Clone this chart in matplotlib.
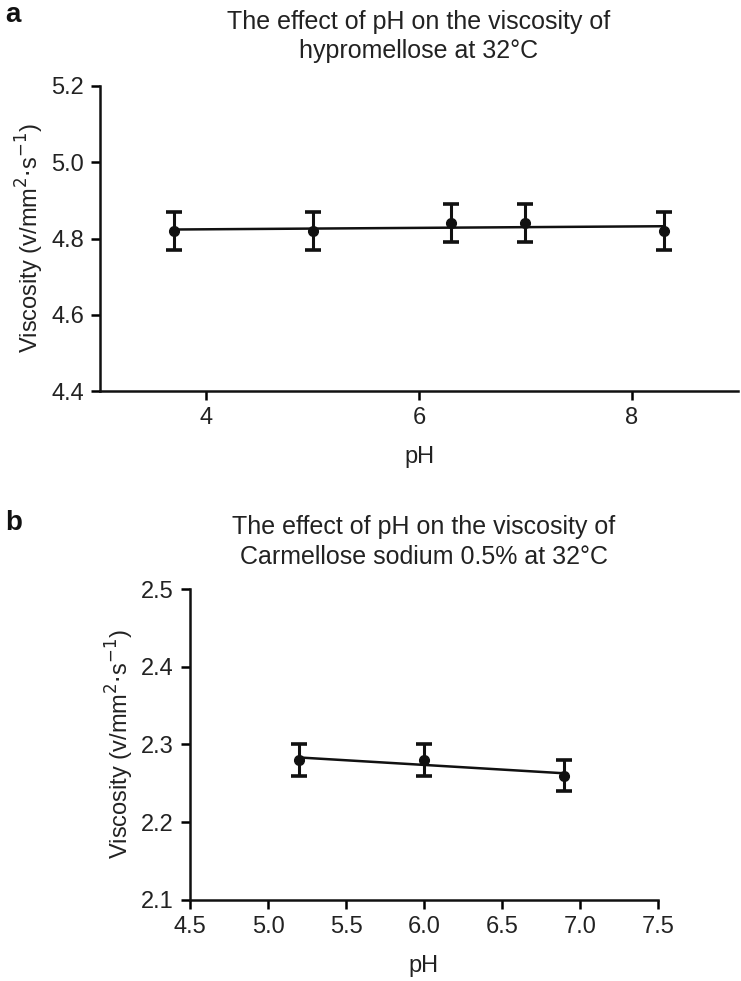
import numpy as np
import matplotlib
matplotlib.use("Agg")
import matplotlib.pyplot as plt

plt.rcParams['font.family'] = ['Liberation Sans', 'DejaVu Sans']

# panel a: hypromellose
ph_a = [3.7, 5.0, 6.3, 7.0, 8.3]
visc_a = [4.82, 4.82, 4.84, 4.84, 4.82]
err_a = [0.05, 0.05, 0.05, 0.05, 0.05]

# panel b: carmellose sodium 0.5%
ph_b = [5.2, 6.0, 6.9]
visc_b = [2.28, 2.28, 2.26]
err_b = [0.02, 0.02, 0.02]

title_a = "The effect of pH on the viscosity of\nhypromellose at 32°C"
title_b = "The effect of pH on the viscosity of\nCarmellose sodium 0.5% at 32°C"
ylab = r"Viscosity (v/mm$^{2}$$\cdot$s$^{-1}$)"

txt = '#222222'
fs = 17

fig = plt.figure(figsize=(7.41, 9.81), dpi=100)
ax_a = fig.add_axes([100/741, 1 - 391/981, 638/741, 305/981])
ax_b = fig.add_axes([190/741, 1 - 900/981, 468/741, 311/981])


def draw(ax, x, y, e, title, xlim, ylim, xticks, yticks, xfmt, yfmt, pad):
    ax.errorbar(x, y, yerr=e, fmt='o', color='#111111', ms=7,
                elinewidth=2.2, capsize=5.5, capthick=2.6, zorder=3)
    # linear fit through the points
    k, b = np.polyfit(x, y, 1)
    xs = np.array([min(x), max(x)])
    ax.plot(xs, k * xs + b, color='#111111', lw=1.8, zorder=2)
    ax.set_xlim(*xlim)
    ax.set_ylim(*ylim)
    ax.set_xticks(xticks)
    ax.set_yticks(yticks)
    ax.set_xticklabels([xfmt.format(v) for v in xticks])
    ax.set_yticklabels([yfmt.format(v) for v in yticks])
    for s in ['top', 'right']:
        ax.spines[s].set_visible(False)
    for s in ['left', 'bottom']:
        ax.spines[s].set_linewidth(1.8)
        ax.spines[s].set_color('#111111')
    ax.tick_params(direction='out', length=6.5, width=1.8, labelsize=fs,
                   labelcolor=txt)
    ax.tick_params(axis='x', pad=5)
    ax.tick_params(axis='y', pad=5)
    ax.set_xlabel("pH", fontsize=fs, color=txt, labelpad=12)
    ax.set_ylabel(ylab, fontsize=fs, color=txt, labelpad=4)
    ax.set_title(title, fontsize=18, color=txt, pad=pad, linespacing=1.3)


draw(ax_a, ph_a, visc_a, err_a, title_a, (3, 9), (4.4, 5.2),
     [4, 6, 8], [4.4, 4.6, 4.8, 5.0, 5.2], "{:.0f}", "{:.1f}", 20)
draw(ax_b, ph_b, visc_b, err_b, title_b, (4.5, 7.5), (2.1, 2.5),
     [4.5, 5.0, 5.5, 6.0, 6.5, 7.0, 7.5], [2.1, 2.2, 2.3, 2.4, 2.5],
     "{:.1f}", "{:.1f}", 18)

fig.text(5/741, 1 - 15/981, "a", fontsize=20, fontweight='bold', va='center', color='#111111')
fig.text(5/741, 1 - 523/981, "b", fontsize=20, fontweight='bold', va='center', color='#111111')

fig.savefig("out.png", dpi=100)
